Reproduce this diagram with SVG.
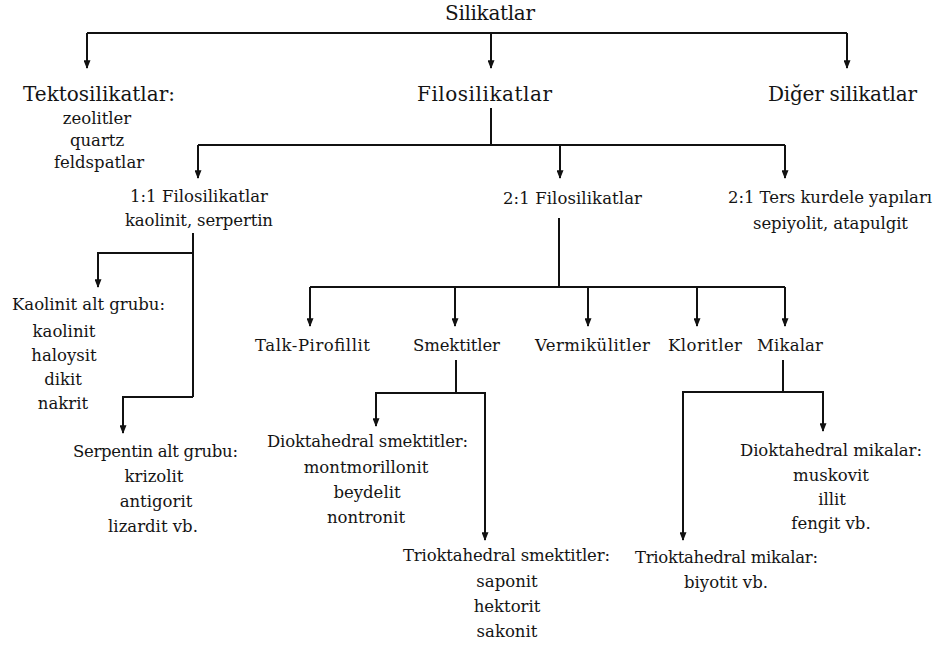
<svg xmlns="http://www.w3.org/2000/svg" width="937" height="645" viewBox="0 0 937 645">
<style>
  text { font-family: 'DejaVu Serif', 'Liberation Serif', serif; fill: #141414; }
  .big { font-size: 20px; }
  .sm { font-size: 16.5px; }
  .ln { fill: none; stroke: #111; stroke-width: 2; }
  .ar { fill: none; stroke: #111; stroke-width: 2; marker-end: url(#ah); }
</style>
<defs>
  <marker id="ah" viewBox="0 0 10 8" refX="9" refY="4" markerWidth="10" markerHeight="7" markerUnits="userSpaceOnUse" orient="auto">
    <path d="M0,0 L10,4 L0,8 Z" fill="#111"/>
  </marker>
</defs>
<rect width="937" height="645" fill="#fff"/>

<g id="connectors">
  <path class="ln" d="M87,33 H847"/>
  <path class="ar" d="M87,33 V68"/>
  <path class="ar" d="M491,33 V68"/>
  <path class="ar" d="M847,33 V68"/>
  <path class="ln" d="M491,108 V145 M198,145 H785"/>
  <path class="ar" d="M198,145 V178"/>
  <path class="ar" d="M560,145 V178"/>
  <path class="ar" d="M785,145 V178"/>
  <path class="ln" d="M193,233 V397"/>
  <path class="ar" d="M193,253 H98 V287"/>
  <path class="ar" d="M193,397 H123 V433"/>
  <path class="ln" d="M559,218 V287 M310,287 H785"/>
  <path class="ar" d="M310,287 V326"/>
  <path class="ar" d="M455,287 V326"/>
  <path class="ar" d="M588,287 V326"/>
  <path class="ar" d="M697,287 V326"/>
  <path class="ar" d="M785,287 V326"/>
  <path class="ln" d="M456,360 V393"/>
  <path class="ar" d="M456,393 H376 V426"/>
  <path class="ar" d="M456,393 H485 V540"/>
  <path class="ln" d="M783,360 V392"/>
  <path class="ar" d="M783,392 H823 V431"/>
  <path class="ar" d="M783,392 H683 V540"/>
</g>

<g id="silikatlar"><text class="big" x="445" y="20" textLength="90" lengthAdjust="spacing">Silikatlar</text></g>

<g id="tektosilikatlar" text-anchor="middle">
  <text class="big" x="23" y="101" text-anchor="start" textLength="152" lengthAdjust="spacing">Tektosilikatlar:</text>
  <text class="sm" x="97" y="124">zeolitler</text>
  <text class="sm" x="97" y="146">quartz</text>
  <text class="sm" x="99" y="168">feldspatlar</text>
</g>

<g id="filosilikatlar"><text class="big" x="417" y="101" textLength="135" lengthAdjust="spacing">Filosilikatlar</text></g>

<g id="diger-silikatlar"><text class="big" x="768" y="101" textLength="149" lengthAdjust="spacing">Diğer silikatlar</text></g>

<g id="filo-11">
  <text class="sm" x="130" y="202" textLength="138" lengthAdjust="spacing">1:1 Filosilikatlar</text>
  <text class="sm" x="125" y="226" textLength="148" lengthAdjust="spacing">kaolinit, serpertin</text>
</g>

<g id="filo-21"><text class="sm" x="503" y="204" textLength="139" lengthAdjust="spacing">2:1 Filosilikatlar</text></g>

<g id="ters-kurdele">
  <text class="sm" x="728" y="203" textLength="204" lengthAdjust="spacing">2:1 Ters kurdele yapıları</text>
  <text class="sm" x="753" y="229" textLength="155" lengthAdjust="spacing">sepiyolit, atapulgit</text>
</g>

<g id="kaolinit-alt-grubu" text-anchor="middle">
  <text class="sm" x="12" y="310" text-anchor="start" textLength="153" lengthAdjust="spacing">Kaolinit alt grubu:</text>
  <text class="sm" x="64" y="337">kaolinit</text>
  <text class="sm" x="64" y="361">haloysit</text>
  <text class="sm" x="63" y="385">dikit</text>
  <text class="sm" x="63" y="409">nakrit</text>
</g>

<g id="serpentin-alt-grubu" text-anchor="middle">
  <text class="sm" x="73" y="457" text-anchor="start" textLength="165" lengthAdjust="spacing">Serpentin alt grubu:</text>
  <text class="sm" x="154" y="482">krizolit</text>
  <text class="sm" x="156" y="507">antigorit</text>
  <text class="sm" x="153" y="532">lizardit vb.</text>
</g>

<g id="talk-pirofillit"><text class="sm" x="255" y="351" textLength="115" lengthAdjust="spacing">Talk-Pirofillit</text></g>
<g id="smektitler"><text class="sm" x="413" y="351" textLength="87" lengthAdjust="spacing">Smektitler</text></g>
<g id="vermikulitler"><text class="sm" x="535" y="351" textLength="115" lengthAdjust="spacing">Vermikülitler</text></g>
<g id="kloritler"><text class="sm" x="668" y="351" textLength="74" lengthAdjust="spacing">Kloritler</text></g>
<g id="mikalar"><text class="sm" x="757" y="351" textLength="66" lengthAdjust="spacing">Mikalar</text></g>

<g id="dioktahedral-smektitler" text-anchor="middle">
  <text class="sm" x="267" y="447" text-anchor="start" textLength="201" lengthAdjust="spacing">Dioktahedral smektitler:</text>
  <text class="sm" x="366" y="473">montmorillonit</text>
  <text class="sm" x="367" y="498">beydelit</text>
  <text class="sm" x="366" y="523">nontronit</text>
</g>

<g id="trioktahedral-smektitler" text-anchor="middle">
  <text class="sm" x="403" y="561" text-anchor="start" textLength="207" lengthAdjust="spacing">Trioktahedral smektitler:</text>
  <text class="sm" x="507" y="587">saponit</text>
  <text class="sm" x="507" y="612">hektorit</text>
  <text class="sm" x="507" y="637">sakonit</text>
</g>

<g id="dioktahedral-mikalar" text-anchor="middle">
  <text class="sm" x="740" y="456" text-anchor="start" textLength="182" lengthAdjust="spacing">Dioktahedral mikalar:</text>
  <text class="sm" x="831" y="481">muskovit</text>
  <text class="sm" x="832" y="505">illit</text>
  <text class="sm" x="831" y="529">fengit vb.</text>
</g>

<g id="trioktahedral-mikalar" text-anchor="middle">
  <text class="sm" x="635" y="563" text-anchor="start" textLength="183" lengthAdjust="spacing">Trioktahedral mikalar:</text>
  <text class="sm" x="726" y="588">biyotit vb.</text>
</g>
</svg>
